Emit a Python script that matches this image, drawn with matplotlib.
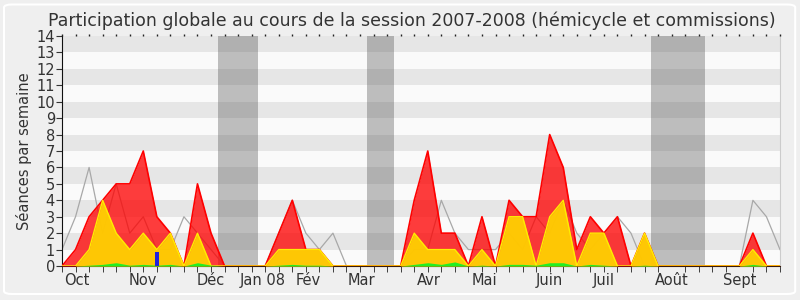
import matplotlib
matplotlib.use("Agg")
import matplotlib.pyplot as plt
from matplotlib.patches import FancyBboxPatch
import numpy as np

# weekly values, session 2007-2008 (54 weeks)
weeks = np.arange(54)
total = [0, 1, 3, 4, 5, 5, 7, 3, 2, 0, 5, 2, 0, 0, 0, 0, 2, 4, 1, 1,
         0, 0, 0, 0, 0, 0, 4, 7, 2, 2, 0, 3, 0, 4, 3, 3, 8, 6, 1, 3,
         2, 3, 0, 2, 0, 0, 0, 0, 0, 0, 0, 2, 0, 0]
commission = [0, 0, 1, 4, 2, 1, 2, 1, 2, 0, 2, 0, 0, 0, 0, 0, 1, 1, 1, 1,
              0, 0, 0, 0, 0, 0, 2, 1, 1, 1, 0, 1, 0, 3, 3, 0, 3, 4, 0, 2,
              2, 0, 0, 2, 0, 0, 0, 0, 0, 0, 0, 1, 0, 0]
interventions = [0, 0, 0.05, 0.1, 0.2, 0.05, 0.1, 0.05, 0.1, 0, 0.2, 0.05, 0, 0, 0, 0,
                 0.05, 0.1, 0.05, 0.05, 0, 0, 0, 0, 0, 0, 0.1, 0.2, 0.1, 0.25, 0,
                 0.05, 0, 0.1, 0.1, 0.05, 0.2, 0.2, 0, 0.1, 0.05, 0, 0, 0.05, 0,
                 0, 0, 0, 0, 0, 0, 0.1, 0, 0]
questions = [0] * 54
questions[7] = 0.87
median = [1, 3, 6, 2, 5, 2, 3, 1, 1, 3, 2, 1, 0, 0, 0, 0, 2, 4, 2, 1,
          2, 0, 0, 0, 0, 0, 1, 1, 4, 2, 1, 1, 1, 2, 1, 3, 2, 4, 2, 1,
          2, 3, 2, 0, 0, 0, 0, 0, 0, 0, 0, 4, 3, 1]
vacances = [(11.5, 14.5), (22.5, 24.5), (43.5, 47.5)]
month_labels = ["Oct", "Nov", "Déc", "Jan 08", "Fév", "Mar", "Avr", "Mai",
                "Juin", "Juil", "Août", "Sept"]
month_pos = [1.1, 5.95, 10.96, 14.85, 18.16, 22.13, 27.05, 31.15, 35.95, 39.97, 45.0, 50.0]

txt = "#333333"
fig = plt.figure(figsize=(8, 3), dpi=100, facecolor="#efefef")
fig.patches.append(FancyBboxPatch((0.005, 0.02), 0.989, 0.965, boxstyle="round,pad=0,rounding_size=0.01",
                                  transform=fig.transFigure, fc="none", ec="white", lw=1.5))
ax = fig.add_axes([0.0775, 0.1133, 0.8975, 0.7667])
ax.set_facecolor("#fafafa")
for k in range(1, 14, 2):
    ax.axhspan(k, k + 1, color="#e6e6e6", lw=0, zorder=0)
for a, b in vacances:
    ax.axvspan(a, b, color=(0.2, 0.2, 0.2), alpha=0.3, lw=0, zorder=1)

ax.plot(weeks, median, color="#a8a8a8", lw=0.9, zorder=2)
ax.fill_between(weeks, 0, total, color="#ff0000", alpha=0.76, lw=0, zorder=3)
ax.plot(weeks, total, color="#ff0000", lw=1.2, zorder=3)
ax.fill_between(weeks, 0, commission, color="#ffd400", alpha=0.92, lw=0, zorder=4)
ax.plot(weeks, commission, color="#ffee00", lw=1.0, zorder=4)
ax.fill_between(weeks, 0, interventions, color="#22ee22", lw=0, zorder=5)
ax.bar(weeks, questions, width=0.3, color="#2222dd", zorder=6)

ax.set_xlim(0, 53)
ax.set_ylim(0, 14)
ax.set_yticks(range(15))
ax.tick_params(axis="y", direction="out", length=4, colors=txt, labelsize=10.5, pad=1)
ax.set_xticks(month_pos)
ax.set_xticklabels(month_labels)
ax.tick_params(axis="x", which="major", length=0, labelsize=10.5, colors=txt, pad=5)
ax.set_xticks(weeks, minor=True)
ax.tick_params(axis="x", which="minor", direction="out", length=4, color="#222222")
ax.set_ylabel("Séances par semaine", fontsize=10.5, color=txt, labelpad=3)
ax.spines["top"].set_visible(False)
ax.spines["right"].set_color("#cccccc")
ax.spines["left"].set_color("#111111")
ax.spines["bottom"].set_color("#3a1a0a")

# small week marks along the top edge
top = ax.twiny()
top.set_xlim(ax.get_xlim())
top.set_xticks(weeks)
top.tick_params(axis="x", direction="out", length=1.5, width=1, color="#222222", labeltop=False)
for s in top.spines.values():
    s.set_visible(False)

fig.text(0.515, 0.913, "Participation globale au cours de la session 2007-2008 (hémicycle et commissions)",
         fontsize=12.5, color=txt, ha="center", va="baseline")
fig.savefig("out.png", dpi=100, facecolor=fig.get_facecolor())
